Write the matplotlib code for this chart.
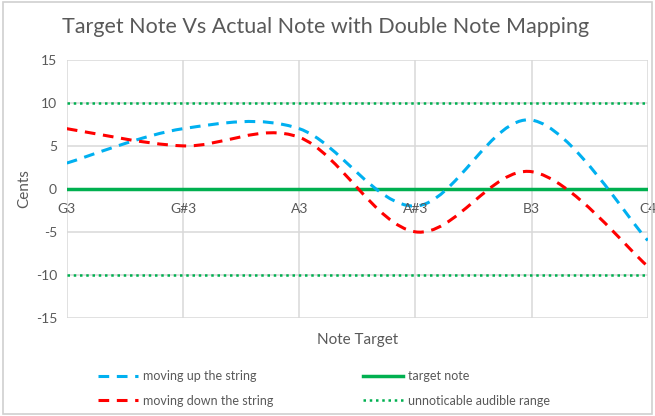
import matplotlib
matplotlib.use("Agg")
import matplotlib.pyplot as plt
from matplotlib.path import Path
from matplotlib.patches import PathPatch, Rectangle
from matplotlib.lines import Line2D

plt.rcParams["font.family"] = ["Lato", "DejaVu Sans"]
plt.rcParams["axes.unicode_minus"] = False

notes = ["G3", "G#3", "A3", "A#3", "B3", "C4"]
moving_up = [3, 7, 7, -2, 8, -6]
moving_down = [7, 5, 6, -5, 2, -9]
target_note = 0
audible_limits = [10, -10]
y_ticks = [-15, -10, -5, 0, 5, 10, 15]

BLUE = "#00b0f0"
RED = "#ff0000"
GREEN = "#00b050"
GRID = "#d9d9d9"
TEXT = "#595959"


def smooth_path(values):
    # Bezier segments through each point, like a spreadsheet "smoothed line"
    xs = list(range(len(values)))
    pts = list(zip(xs, values))
    verts = [pts[0]]
    codes = [Path.MOVETO]
    n = len(pts)
    for i in range(n - 1):
        p0 = pts[max(i - 1, 0)]
        p1 = pts[i]
        p2 = pts[i + 1]
        p3 = pts[min(i + 2, n - 1)]
        c1 = (p1[0] + (p2[0] - p0[0]) / 6, p1[1] + (p2[1] - p0[1]) / 6)
        c2 = (p2[0] - (p3[0] - p1[0]) / 6, p2[1] - (p3[1] - p1[1]) / 6)
        verts += [c1, c2, p2]
        codes += [Path.CURVE4] * 3
    return Path(verts, codes)


fig = plt.figure(figsize=(6.55, 4.16), dpi=100)
fig.patches.append(Rectangle((0.004, 0.006), 0.992, 0.988, transform=fig.transFigure,
                             fill=False, edgecolor="#d0d0d0", linewidth=1.2))
ax = fig.add_axes([0.102, 0.236, 0.887, 0.62])

ax.set_xlim(0, len(notes) - 1)
ax.set_ylim(-15, 15)
ax.set_yticks(y_ticks)
ax.set_xticks(range(len(notes)))
ax.set_xticklabels([])
ax.tick_params(length=0, labelsize=10, labelcolor=TEXT, pad=7)
ax.grid(True, color=GRID, linewidth=1.1)
for s in ax.spines.values():
    s.set_visible(False)

for lim in audible_limits:
    ax.axhline(lim, color=GREEN, linestyle=(0, (1, 1.5)), linewidth=1.8, zorder=3)
ax.axhline(target_note, color=GREEN, linewidth=2.5, zorder=3)

ax.add_patch(PathPatch(smooth_path(moving_up), fill=False, edgecolor=BLUE,
                       linewidth=2.2, linestyle=(0, (3.5, 2.5)), zorder=4, capstyle="butt"))
ax.add_patch(PathPatch(smooth_path(moving_down), fill=False, edgecolor=RED,
                       linewidth=2.2, linestyle=(0, (3.5, 2.5)), zorder=4, capstyle="butt"))

# category labels sit just below the zero line
for i, name in enumerate(notes):
    ax.annotate(name, (i, 0), xytext=(0, -10), textcoords="offset points",
                ha="center", va="top", fontsize=10, color=TEXT, zorder=5)

ax.set_ylabel("Cents", fontsize=11, color=TEXT, labelpad=3)
ax.set_xlabel("Note Target", fontsize=11, color=TEXT, labelpad=4)
fig.text(0.497, 0.935, "Target Note Vs Actual Note with Double Note Mapping",
         ha="center", va="center", fontsize=15.5, color=TEXT)

handles = [
    Line2D([], [], color=BLUE, linewidth=2.2, linestyle=(0, (3.5, 2.5))),
    Line2D([], [], color=RED, linewidth=2.2, linestyle=(0, (3.5, 2.5))),
    Line2D([], [], color=GREEN, linewidth=2.5),
    Line2D([], [], color=GREEN, linewidth=1.8, linestyle=(0, (1, 1.5))),
]
labels = ["moving up the string", "moving down the string",
          "target note", "unnoticable audible range"]
fig.legend(handles, labels, ncol=2, loc="center", bbox_to_anchor=(0.495, 0.066),
           frameon=False, fontsize=9, labelcolor=TEXT, handlelength=3.2,
           columnspacing=7.2, handletextpad=0.4, labelspacing=1.0)

fig.savefig("out.png", dpi=100)
